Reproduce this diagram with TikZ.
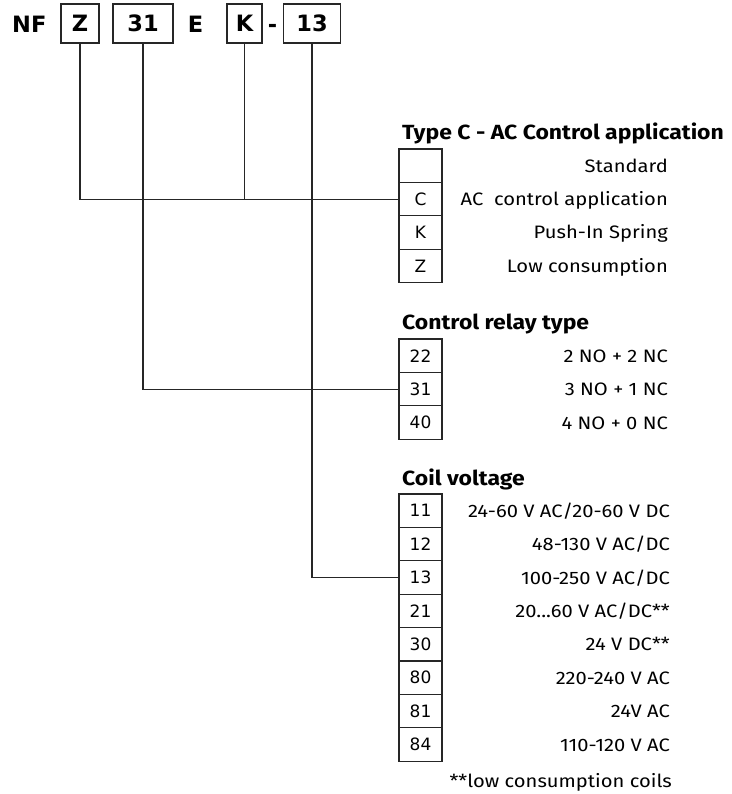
\documentclass[tikz,border=0pt]{standalone}
\usepackage{fontspec}
\setmainfont{Fira Sans}[FakeStretch=1.12]
\newfontfamily\boxfont{DejaVu Sans}
\def\tdots{...}

\begin{document}
\begin{tikzpicture}[x=1pt,y=-1pt]
\def\cw{43}
\def\rh{33.4}
\def\dx{668}
\tikzset{
  codefont/.style={font=\boxfont\bfseries\fontsize{22.5}{22.5}\selectfont},
  code/.style={codefont, draw=black!85, line width=1.1pt, minimum height=39pt, inner sep=0pt},
  plain/.style={codefont, anchor=base, inner sep=0pt},
  cell/.style={draw=black!85, line width=1.1pt, minimum width=\cw pt, minimum height=\rh pt,
    inner sep=0pt, font=\boxfont\fontsize{17}{17}\selectfont},
  desc/.style={anchor=base east, inner sep=0pt, font=\fontsize{18}{18}\selectfont},
  head/.style={anchor=base west, inner sep=0pt, font=\bfseries\fontsize{20.5}{20.5}\selectfont},
  link/.style={draw=black!85, line width=1.1pt}
}
\useasboundingbox (0,0) rectangle (731,794);

% order code
\node[plain, anchor=base west] (nf) at (12,33) {NF};
\node[code, minimum width=38pt] (zbox) at (80,23.5) {Z};
\node[code, minimum width=60pt] (relbox) at (143,23.5) {31};
\node[plain] (etxt) at (195.5,33) {E};
\node[code, minimum width=35pt] (kbox) at (244.5,23.5) {K};
\node[plain] (dash) at (272.5,33) {-};
\node[code, minimum width=57pt] (volbox) at (312,23.5) {13};

% type C
\node[head] (typehead) at (402,140) {Type C - AC Control application};
\foreach \i/\c/\t in {0//{Standard}, 1/C/{AC\ \ control application}, 2/K/{Push-In Spring}, 3/Z/{Low consumption}}{
  \pgfmathsetmacro{\yc}{149+\rh/2+\i*\rh}
  \node[cell] (type\i) at (420.5,\yc) {\c};
  \node[desc] (typed\i) at (\dx,\yc+6.5) {\t};
}

% relay type
\node[head] (relhead) at (402,329) {Control relay type};
\foreach \i/\c/\t in {0/22/{2 NO + 2 NC}, 1/31/{3 NO + 1 NC}, 2/40/{4 NO + 0 NC}}{
  \pgfmathsetmacro{\yc}{339+\rh/2+\i*\rh}
  \node[cell] (rel\c) at (420.5,\yc) {\c};
  \node[desc] (reld\c) at (\dx,\yc+6.5) {\t};
}

% coil voltage
\node[head] (coilhead) at (402,485) {Coil voltage};
\foreach \i/\c/\t in {0/11/{24-60 V AC/20-60 V DC}, 1/12/{48-130 V AC/DC}, 2/13/{100-250 V AC/DC},
    3/21/{20\tdots60 V AC/DC**}, 4/30/{24 V DC**}, 5/80/{220-240 V AC}, 6/81/{24V AC}, 7/84/{110-120 V AC}}{
  \pgfmathsetmacro{\yc}{494+\rh/2+\i*\rh}
  \node[cell] (coil\c) at (420.5,\yc) {\c};
  \node[desc] (coild\c) at (\dx+2,\yc+6.5) {\t};
}
\node[desc] (note) at (672,787) {**low consumption coils};

% links
\draw[link] (zbox.south) |- (type1.west);
\draw[link] (kbox.south) -- (kbox.south |- type1.west);
\draw[link] (relbox.south) |- (rel31.west);
\draw[link] (volbox.south) |- (coil13.west);
\end{tikzpicture}
\end{document}
